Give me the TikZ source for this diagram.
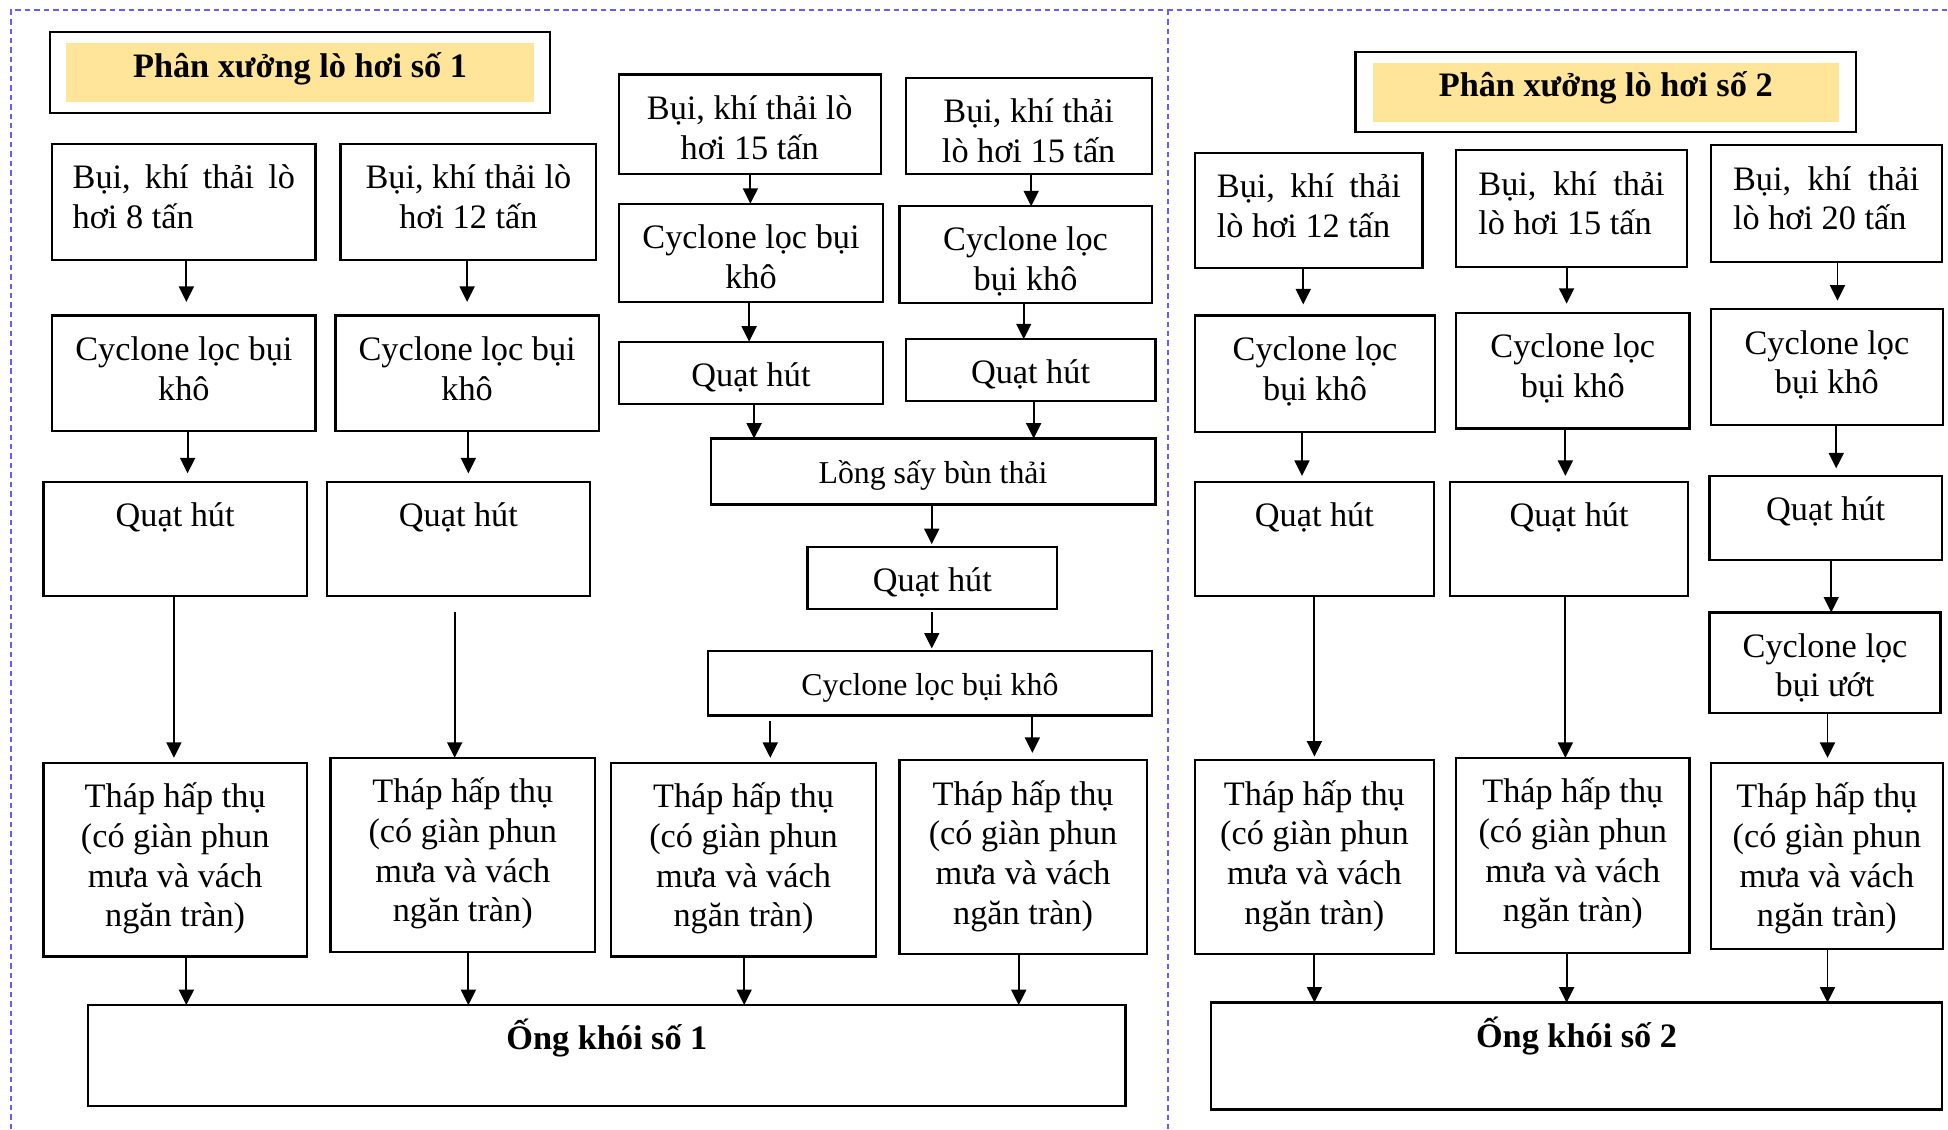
\documentclass[tikz,border=0pt]{standalone}
\usepackage{fontspec}
\setmainfont{Liberation Serif}
\usetikzlibrary{arrows.meta}

\newlength\unitlen
\setlength\unitlen{0.5pt}
\newcommand\toppad{2pt}
\definecolor{framedash}{RGB}{102,92,255}
\definecolor{titlegold}{RGB}{255,229,153}

\tikzset{
  flowbox/.style={draw, line width=0.9pt, inner sep=0pt, outer sep=0pt,
    anchor=north west, font=\fontsize{13.8pt}{16pt}\selectfont},
  link/.style={line width=0.75pt, -{Triangle[length=6.2pt,width=6pt]}},
  sectionline/.style={draw=framedash, line width=0.6pt, dash pattern=on 2.2pt off 1.6pt},
}

% box given by its corners (left, top, right, bottom); text hangs from the top
\newcommand\procbox[6]{%
  \node[flowbox] (#1) at (#2,#3)
    {\parbox[c][\dimexpr\unitlen*(#5-#3)\relax][t]{\dimexpr\unitlen*(#4-#2)\relax}%
      {\vspace*{\toppad}\null\centering #6\par}};}

% vertical arrow at abscissa #4 from box #2 down to box #3
\newcommand\link[4][]{\draw[link,#1] (#4,0 |- #2.south) -- (#4,0 |- #3.north);}

\newcommand\tower{Tháp hấp thụ\\(có giàn phun\\mưa và vách\\ngăn tràn)}
\newcommand\smalltext{\fontsize{12.8pt}{16pt}\selectfont}

\begin{document}
\begin{tikzpicture}[x=0.5pt, y=-0.5pt]
\useasboundingbox (0,0) rectangle (1568,909);

% section frames
\draw[sectionline] (9,909) -- (9,8) -- (1568,8);
\draw[sectionline] (940,8) -- (940,909);

% ---------- workshop 1 ----------
\fill[titlegold] (53,35) rectangle (430,82);
\procbox{title1}{40}{26}{443}{91}{\textbf{Phân xưởng lò hơi số 1}}

\procbox{b1}{42}{116}{254}{209}{\parbox[t]{179\unitlen}{Bụi,\hfill khí\hfill thải\hfill lò\\hơi 8 tấn}}
\procbox{b2}{274}{116}{480}{209}{Bụi, khí thải lò\\hơi 12 tấn}
\procbox{c1}{42}{254}{254}{347}{Cyclone lọc bụi\\khô}
\procbox{c2}{270}{254}{482}{347}{Cyclone lọc bụi\\khô}
\procbox{q1}{35}{388}{247}{480}{Quạt hút}
\procbox{q2}{263}{388}{475}{480}{Quạt hút}

\procbox{b3}{498}{60}{709}{140}{Bụi, khí thải lò\\hơi 15 tấn}
\procbox{b4}{729}{63}{927}{140}{Bụi, khí thải\\lò hơi 15 tấn}
\procbox{c3}{498}{164}{711}{243}{Cyclone lọc bụi\\khô}
\procbox{c4}{724}{166}{927}{244}{Cyclone lọc\\bụi khô}
\procbox{q3}{498}{275}{711}{325}{Quạt hút}
\procbox{q4}{729}{273}{930}{323}{Quạt hút}
\procbox{dryer}{572}{353}{930}{406}{\smalltext Lồng sấy bùn thải}
\procbox{q5}{650}{440}{851}{490}{Quạt hút}
\procbox{c5}{570}{524}{927}{576}{\smalltext Cyclone lọc bụi khô}

\procbox{tt1}{35}{614}{247}{770}{\tower}
\procbox{tt2}{266}{610}{479}{766}{\tower}
\procbox{tt3}{492}{614}{705}{770}{\tower}
\procbox{tt4}{724}{612}{923}{768}{\tower}
\procbox{stack1}{71}{809}{906}{890}{\textbf{Ống khói số 1}}

\link[shorten >=5.5pt]{b1}{c1}{150}
\link[shorten >=5.5pt]{b2}{c2}{376}
\link[shorten >=3.5pt]{c1}{q1}{151}
\link[shorten >=3.5pt]{c2}{q2}{377}
\link[shorten >=2pt]{q1}{tt1}{140}
\link[shorten <=6.5pt]{q2}{tt2}{366}
\link{b3}{c3}{604}
\link{b4}{c4}{830}
\link{c3}{q3}{603}
\link{c4}{q4}{824}
\link{q3}{dryer}{607}
\link{q4}{dryer}{832}
\link[shorten >=1pt]{dryer}{q5}{750}
\link[shorten <=1.5pt, shorten >=1pt]{q5}{c5}{750}
\link[shorten <=2pt, shorten >=2pt]{c5}{tt3}{620}
\link[shorten >=3pt]{c5}{tt4}{831}
\link{tt1}{stack1}{150}
\link{tt2}{stack1}{377}
\link{tt3}{stack1}{599}
\link{tt4}{stack1}{820}

% ---------- workshop 2 ----------
\fill[titlegold] (1105,51) rectangle (1480,98);
\procbox{title2}{1091}{42}{1494}{106}{\textbf{Phân xưởng lò hơi số 2}}

\procbox{rb1}{962}{123}{1145}{216}{\parbox[t]{148\unitlen}{Bụi,\hfill khí\hfill thải\\lò hơi 12 tấn}}
\procbox{rb2}{1172}{121}{1358}{215}{\parbox[t]{150\unitlen}{Bụi,\hfill khí\hfill thải\\lò hơi 15 tấn}}
\procbox{rb3}{1377}{117}{1563}{211}{\parbox[t]{150\unitlen}{Bụi,\hfill khí\hfill thải\\lò hơi 20 tấn}}
\procbox{rc1}{962}{254}{1155}{348}{Cyclone lọc\\bụi khô}
\procbox{rc2}{1172}{252}{1360}{345}{Cyclone lọc\\bụi khô}
\procbox{rc3}{1377}{249}{1564}{342}{Cyclone lọc\\bụi khô}
\procbox{rq1}{962}{388}{1154}{480}{Quạt hút}
\procbox{rq2}{1167}{388}{1359}{480}{Quạt hút}
\procbox{rq3}{1376}{383}{1563}{451}{Quạt hút}
\procbox{rcw}{1376}{493}{1562}{574}{Cyclone lọc\\bụi ướt}
\procbox{rt1}{962}{612}{1154}{768}{\tower}
\procbox{rt2}{1172}{610}{1360}{767}{\tower}
\procbox{rt3}{1377}{614}{1564}{764}{\tower}
\procbox{stack2}{975}{807}{1563}{893}{\textbf{Ống khói số 2}}

\link[shorten >=4.5pt]{rb1}{rc1}{1049}
\link[shorten >=3.75pt]{rb2}{rc2}{1261}
\link[shorten >=3.5pt]{rb3}{rc3}{1479}
\link[shorten >=2.5pt]{rc1}{rq1}{1048}
\link[shorten >=2.5pt]{rc2}{rq2}{1260}
\link[shorten >=3pt]{rc3}{rq3}{1478}
\link[shorten >=1.5pt]{rq1}{rt1}{1058}
\link{rq2}{rt2}{1260}
\link{rq3}{rcw}{1474}
\link[shorten >=2pt]{rcw}{rt3}{1471}
\link{rt1}{stack2}{1058}
\link{rt2}{stack2}{1261}
\link{rt3}{stack2}{1471}
\end{tikzpicture}
\end{document}
